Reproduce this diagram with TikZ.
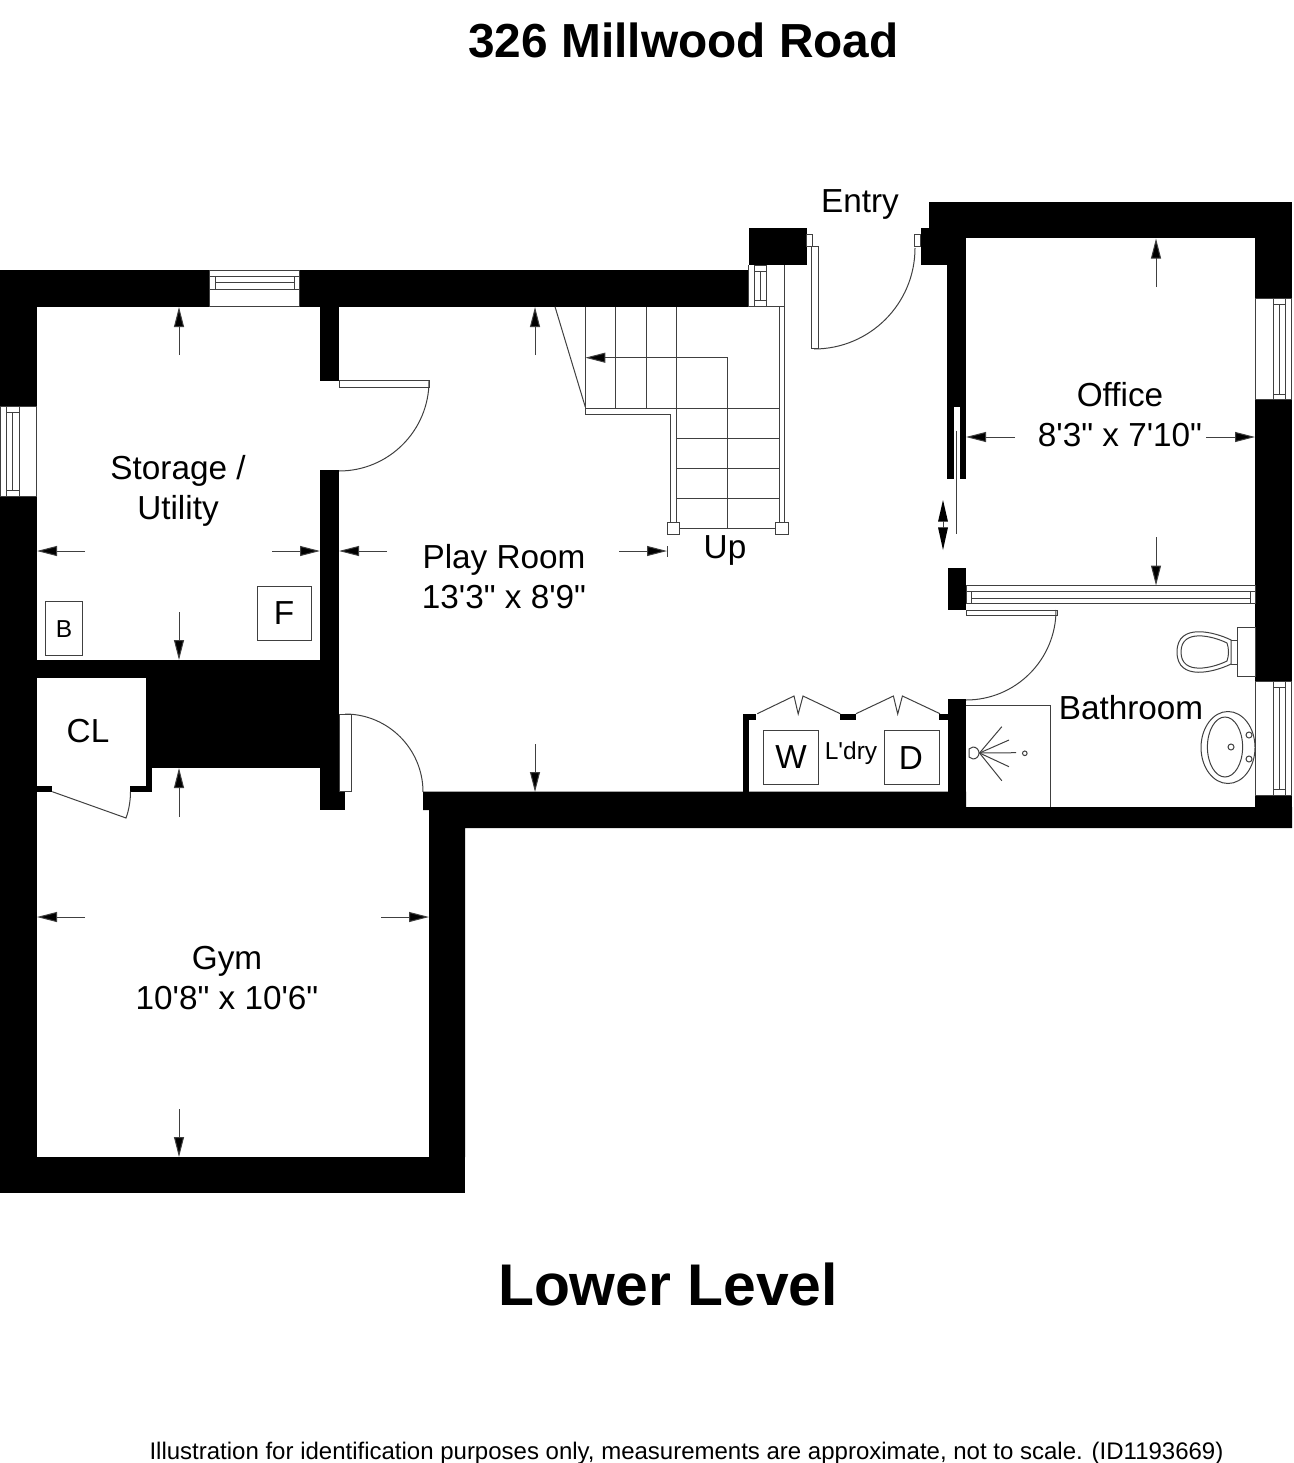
\documentclass[tikz,border=0pt]{standalone}
\usepackage{fontspec}
\usetikzlibrary{arrows.meta}
\newfontfamily\planfont{Liberation Sans}
\tikzset{
  wall/.style={fill=black},
  thin line/.style={draw=black!75, line width=1pt},
  dim arrow/.style={draw=black!75, line width=1pt, -{Triangle[length=20pt,width=10pt,fill=black]}},
  room label/.style={font=\planfont\fontsize{33.3}{40}\selectfont, align=center, inner sep=0pt},
  small label/.style={font=\planfont\fontsize{24.5}{30}\selectfont, inner sep=0pt},
  head label/.style={font=\planfont\bfseries\fontsize{47.8}{56}\selectfont, inner sep=0pt},
}
\begin{document}
\begin{tikzpicture}[x=1pt, y=1pt, yscale=-1]
      \useasboundingbox (0, 0) rectangle (1293, 1463);

      \fill [wall] (0, 270) rectangle (209.3, 306.7);
      \fill [wall] (299.5, 270) rectangle (748.5, 306.7);
      \fill [wall] (0, 270) rectangle (36.7, 406.7);
      \fill [wall] (0, 496) rectangle (36.7, 1193);
      \fill [wall] (320, 306) rectangle (339, 380.7);
      \fill [wall] (320, 470) rectangle (339, 678);
      \fill [wall] (36, 659.5) rectangle (339, 678);
      \fill [wall] (145.7, 678) rectangle (339, 768);
      \fill [wall] (145.7, 768) rectangle (152, 791.7);
      \fill [wall] (36, 785.5) rectangle (52.3, 791.7);
      \fill [wall] (130, 785.5) rectangle (152, 791.7);
      \fill [wall] (320, 768) rectangle (339, 792);
      \fill [wall] (320, 791.7) rectangle (345, 810);
      \fill [wall] (0, 1157) rectangle (465, 1193);
      \fill [wall] (423, 791.7) -- (966, 791.7) -- (966, 807) -- (1292, 807) -- (1292, 828)
        -- (465, 828) -- (465, 1157) -- (429, 1157) -- (429, 810) -- (423, 810) -- cycle;
      \fill [wall] (748.5, 228.3) rectangle (806.7, 265);
      \fill [wall] (929.3, 202) rectangle (1292, 238.3);
      \fill [wall] (920.7, 228.3) rectangle (966, 265);
      \fill [wall] (947.3, 265) rectangle (966, 406.7);
      \fill [wall] (947.3, 406) rectangle (953.7, 478.7);
      \fill [wall] (959.7, 406) rectangle (966, 478.7);
      \fill [wall] (947.6, 568.3) rectangle (966, 610);
      \fill [wall] (947.6, 699.3) rectangle (966, 792);
      \fill [wall] (1255, 238) rectangle (1292, 298.3);
      \fill [wall] (1255, 399.3) rectangle (1292, 681.7);
      \fill [wall] (1255, 795) rectangle (1292, 808);
      \fill [wall] (742.6, 713.7) rectangle (748.7, 792);
      \fill [wall] (742.6, 713.7) rectangle (756, 720.3);
      \fill [wall] (840, 713.7) rectangle (856, 720.3);
      \fill [wall] (939.3, 713.7) rectangle (948, 720.3);

      \draw [thin line] (209.3, 270.5) rectangle (299.5, 306.7);
      \draw [thin line] (215, 276.7) rectangle (294, 289);
      \draw [thin line] (215, 282.7) -- (294, 282.7);
      \draw [thin line] (209.3, 276.7) -- (299.5, 276.7);
      \draw [thin line] (209.3, 289) -- (299.5, 289);

      \draw [thin line] (0.5, 406.7) rectangle (36.7, 496);
      \draw [thin line] (6.7, 412.7) rectangle (19, 490);
      \draw [thin line] (12.7, 412.7) -- (12.7, 490);
      \draw [thin line] (6.7, 406.7) -- (6.7, 496);
      \draw [thin line] (19, 406.7) -- (19, 496);

      \draw [thin line] (1255, 298.3) rectangle (1291.7, 399.3);
      \draw [thin line] (1273.3, 304) rectangle (1285.7, 394);
      \draw [thin line] (1279.3, 304) -- (1279.3, 394);
      \draw [thin line] (1273.3, 298.3) -- (1273.3, 399.3);
      \draw [thin line] (1285.7, 298.3) -- (1285.7, 399.3);

      \draw [thin line] (1255, 681.7) rectangle (1291.7, 795);
      \draw [thin line] (1273.3, 687.3) rectangle (1285.7, 789.3);
      \draw [thin line] (1279.3, 687.3) -- (1279.3, 789.3);
      \draw [thin line] (1273.3, 681.7) -- (1273.3, 795);
      \draw [thin line] (1285.7, 681.7) -- (1285.7, 795);

      \draw [thin line] (966, 585.3) rectangle (1255, 603.7);
      \draw [thin line] (966, 591.7) -- (1255, 591.7);
      \draw [thin line] (971.7, 591.7) rectangle (1250.5, 603.7);
      \draw [thin line] (971.7, 598) -- (1250.5, 598);

      \draw [thin line] (748.7, 265) -- (748.7, 306.7) -- (784.7, 306.7);
      \draw [thin line] (754.7, 265) rectangle (766.7, 306.7);
      \draw [thin line] (760.7, 271) -- (760.7, 300);
      \draw [thin line] (754.7, 271) -- (766.7, 271);
      \draw [thin line] (754.7, 300) -- (766.7, 300);

      \draw [thin line] (339, 380.7) rectangle (429, 387);
      \draw [thin line] (429, 381) arc (0:90:90);
      \draw [thin line] (339, 714) rectangle (351, 791.7);
      \draw [thin line] (345, 714) arc (-90:0:78);
      \draw [thin line] (52.3, 791.7) -- (126, 818) .. controls (129, 810) and (130.5, 800) .. (130.5, 791.7);
      \draw [thin line] (806.7, 234.3) rectangle (812.7, 246.7);
      \draw [thin line] (811.7, 246.7) rectangle (818.3, 348.5);
      \draw [thin line] (814, 349) arc (90:0:101);
      \draw [thin line] (914.7, 234.3) rectangle (920.7, 246.7);
      \draw [thin line] (966, 610) rectangle (1057, 615.7);
      \draw [thin line] (1056, 610) arc (0:90:90);
      \draw [thin line] (956.3, 430.7) -- (956.3, 534);
      \draw [thin line] (757.3, 713.7) -- (794, 696) -- (798.2, 714) -- (803, 696) -- (840.2, 713.7);
      \draw [thin line] (856, 713.7) -- (893.4, 696) -- (897.7, 714) -- (902.4, 696) -- (940, 713.7);

      \foreach \stepx in {585.3, 615.7, 646}
        \draw [thin line] (\stepx, 306.7) -- (\stepx, 408.7);
      \foreach \stepy in {438.3, 468.3, 498.3}
        \draw [thin line] (676, \stepy) -- (779, \stepy);
      \draw [thin line] (555, 306.7) -- (585.3, 407);
      \draw [thin line] (585.3, 408.7) -- (779, 408.7);
      \draw [thin line] (585.3, 408.7) -- (585.3, 414.7) -- (670, 414.7) -- (670, 522.3);
      \draw [thin line] (676, 306.7) -- (676, 528.3) -- (776, 528.3);
      \draw [thin line] (779, 306.7) -- (779, 522.3);
      \draw [thin line] (784.7, 265) -- (784.7, 522.3);
      \draw [dim arrow] (727.3, 528.3) -- (727.3, 357.7) -- (585.3, 357.7);
      \draw [thin line, fill=white] (667.3, 522.3) rectangle (679.3, 534.3);
      \draw [thin line, fill=white] (775.7, 522.3) rectangle (788.3, 534.3);

      \draw [dim arrow] (179, 355) -- (179, 307);
      \draw [dim arrow] (85, 551) -- (37, 551);
      \draw [dim arrow] (272, 551) -- (320, 551);
      \draw [dim arrow] (179, 612) -- (179, 660);
      \draw [dim arrow] (179, 817) -- (179, 768);
      \draw [dim arrow] (85, 917) -- (37, 917);
      \draw [dim arrow] (381, 917) -- (429, 917);
      \draw [dim arrow] (179, 1109) -- (179, 1157);
      \draw [dim arrow] (535, 355) -- (535, 307);
      \draw [dim arrow] (387, 551) -- (339, 551);
      \draw [dim arrow] (619, 551) -- (667, 551);
      \draw [thin line] (667, 546) -- (667, 557);
      \draw [dim arrow] (535, 744) -- (535, 792);
      \draw [dim arrow] (1156, 287) -- (1156, 238.5);
      \draw [dim arrow] (1015, 437) -- (966, 437);
      \draw [dim arrow] (1206, 437) -- (1255, 437);
      \draw [dim arrow] (1156, 537) -- (1156, 585.5);
      \fill [wall] (943, 500) -- (948, 521.7) -- (938, 521.7) -- cycle;
      \fill [wall] (943, 550) -- (948, 527.3) -- (938, 527.3) -- cycle;
      \draw [thin line] (943, 521) -- (943, 528);

      \draw [thin line] (966, 705.3) -- (1050, 705.3) -- (1050, 807);
      \draw [thin line] (973, 747) arc (-90:90:6);
      \draw [thin line] (973, 747) -- (969, 749) -- (969, 757) -- (973, 759);
      \foreach \jetx/\jety in {1001.8/726.7, 1009/740, 1016.2/752.7, 1009/766.7, 1001.8/780.7}
        \draw [thin line] (979.5, 753) -- (\jetx, \jety);
      \draw [thin line] (1024.8, 753.3) circle (2.3);

      \draw [thin line] (1237, 627.7) rectangle (1255, 676);
      \draw [thin line] (1231, 640) -- (1237, 640);
      \draw [thin line] (1231, 664) -- (1237, 664);
      \draw [thin line] (1231, 640) .. controls (1215, 632) and (1177, 622) .. (1177, 652)
        .. controls (1177, 682) and (1215, 672) .. (1231, 664) -- cycle;
      \draw [thin line] (1227, 643) .. controls (1213, 636) and (1181, 628) .. (1181, 652)
        .. controls (1181, 676) and (1213, 668) .. (1227, 661) .. controls (1229, 655) and (1229, 649) .. (1227, 643);

      \draw [thin line] (1228, 747.5) ellipse (27 and 36);
      \draw [thin line] (1225, 747) ellipse (17.6 and 30);
      \draw [thin line] (1231, 747) circle (3);
      \draw [thin line] (1249, 735) circle (3);
      \draw [thin line] (1249, 759) circle (3);

      \draw [thin line] (763.4, 730.3) rectangle (818.3, 784.3);
      \draw [thin line] (884.4, 730.3) rectangle (939, 784.3);
      \draw [thin line] (257.3, 586.3) rectangle (311.7, 640.7);
      \draw [thin line] (45.3, 601.3) rectangle (82.3, 655.3);

      \node [head label] (title) at (683.5, 40) {326 Millwood Road};
      \node [head label, font=\planfont\bfseries\fontsize{58.8}{70}\selectfont] (level) at (668, 1284) {Lower Level};
      \node [inner sep=0pt, font=\planfont\fontsize{24}{28}\selectfont] (note) at (686.5, 1453)
        {Illustration for identification purposes only, measurements are approximate, not to scale. (ID1193669)};
      \node [room label] (entry) at (860, 205) {Entry};
      \node [room label] (office) at (1120, 415) {Office\\8'3" x 7'10"};
      \node [room label] (storage) at (178, 491) {Storage /\\Utility};
      \node [room label] (playroom) at (504, 577) {Play Room\\13'3" x 8'9"};
      \node [room label] (up) at (725, 550) {Up};
      \node [room label] (gym) at (227, 978) {Gym\\10'8" x 10'6"};
      \node [room label] (bathroom) at (1131, 708) {Bathroom};
      \node [room label] (closet) at (88, 731) {CL};
      \node [room label] (washer) at (791, 757) {W};
      \node [room label] (dryer) at (911, 758) {D};
      \node [room label] (furnace) at (284, 613) {F};
      \node [small label] (boiler) at (64, 629) {B};
      \node [small label] (laundry) at (851, 753.5) {L'dry};
    \end{tikzpicture}
\end{document}
